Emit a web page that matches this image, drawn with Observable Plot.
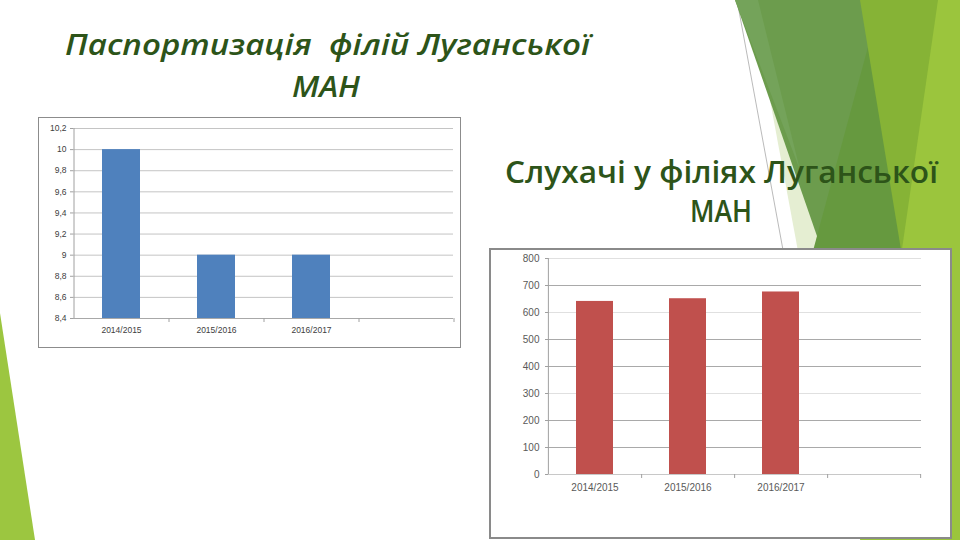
<!DOCTYPE html>
<html>
<head>
<meta charset="utf-8">
<script src="https://cdn.jsdelivr.net/npm/d3@7"></script>
<script src="https://cdn.jsdelivr.net/npm/@observablehq/plot@0.6"></script>
<style>
  html, body { margin: 0; padding: 0; background: #fff; }
  #slide { position: relative; width: 960px; height: 540px; overflow: hidden; background: #fff; }
  #decor, #titles { position: absolute; left: 0; top: 0; }
  .box { position: absolute; background: #fff; box-sizing: border-box; }
  #leftBox { left: 38px; top: 117px; width: 423px; height: 231px; border: 1px solid #8c8c8c; }
  #rightBox { left: 489px; top: 248px; width: 463px; height: 291px; border: 2px solid #8a8a8a; }
  .box svg { display: block; }
</style>
</head>
<body>
<div id="slide">
  <svg id="decor" width="960" height="540">
    <polygon points="0,313 35,540 0,540" fill="#9cc640"/>
    <polygon points="770,100 800,262 836,262" fill="#e5eed2"/>
    <line x1="737" y1="0" x2="783" y2="250" stroke="#a8a8a8" stroke-width="0.8"/>
    <polygon points="735,0 862,0 906,262 826,262" fill="#6c9c4d"/>
    <polygon points="735,0 758,0 800,170" fill="#74a35a"/>
    <polygon points="868,47 906,262 810,262" fill="#66993f"/>
    <polygon points="860,0 940,0 903,262" fill="#86b336"/>
    <polygon points="938,0 960,0 960,540 860,540" fill="#9bc53d"/>
  </svg>
  <div id="leftBox" class="box"></div>
  <div id="rightBox" class="box"></div>
  <svg id="titles" width="960" height="240" style="pointer-events:none">
    <g fill="#2d5419" font-family="Open Sans, DejaVu Sans" font-weight="600">
      <text x="65" y="55" font-size="28" font-style="italic" textLength="525" lengthAdjust="spacingAndGlyphs">Паспортизація&#160;&#160;філій Луганської</text>
      <text x="292" y="97" font-size="28" font-style="italic" textLength="68" lengthAdjust="spacingAndGlyphs">МАН</text>
      <text x="505" y="183" font-size="31" textLength="433" lengthAdjust="spacingAndGlyphs">Слухачі у філіях Луганської</text>
      <text x="690" y="222" font-size="31" textLength="62" lengthAdjust="spacingAndGlyphs">МАН</text>
    </g>
  </svg>
</div>
<script>
// ---- data ----
const categories = ["2014/2015", "2015/2016", "2016/2017"];
const branchCounts = [10, 9, 9];            // Паспортизація філій
const listenerCounts = [641, 651, 676];      // Слухачі у філіях
const leftYTicks = [8.4, 8.6, 8.8, 9, 9.2, 9.4, 9.6, 9.8, 10, 10.2];
const leftYTickLabels = ["8,4", "8,6", "8,8", "9", "9,2", "9,4", "9,6", "9,8", "10", "10,2"];
const rightYTicks = [0, 100, 200, 300, 400, 500, 600, 700, 800];
const rightYTickLabels = ["0", "100", "200", "300", "400", "500", "600", "700", "800"];
const rightDarkGrid = [100, 200, 400, 500, 700];
const rightLightGrid = [300, 600, 800];

const slots = [...categories, ""]; // empty fourth category slot as in the original
const leftData = categories.map((c, i) => ({cat: c, value: branchCounts[i]}));
const rightData = categories.map((c, i) => ({cat: c, value: listenerCounts[i]}));

function chart({data, width, height, ml, mr, mt, mb, yTicks, yLabels, fill, fontSize, yPad, xPad, grids, baseStroke, textColor}) {
  const step = (width - ml - mr) / slots.length;
  const labelMap = new Map(yTicks.map((t, i) => [t, yLabels[i]]));
  const yMin = yTicks[0], yMax = yTicks[yTicks.length - 1];
  return Plot.plot({
    width, height,
    marginLeft: ml, marginRight: mr, marginTop: mt, marginBottom: mb,
    style: {fontFamily: "Liberation Sans, Arial, sans-serif", fontSize: fontSize + "px", color: textColor, background: "white", overflow: "visible"},
    x: {domain: slots, paddingInner: 0.6, paddingOuter: 0.3, axis: null},
    y: {domain: [yMin, yMax], axis: null},
    marks: [
      ...grids.map(g => Plot.gridY(g.ticks, {stroke: g.stroke, strokeOpacity: 1})),
      Plot.barY(data, {x: "cat", y1: yMin, y2: "value", fill}),
      Plot.ruleY([yMin], {stroke: baseStroke}),
      Plot.ruleX([slots[0]], {dx: -step / 2, stroke: "#a0a0a0"}),
      Plot.axisY({ticks: yTicks, tickFormat: d => labelMap.get(d), tickSize: 3, tickPadding: yPad, stroke: "#a0a0a0", fill: textColor, label: null}),
      Plot.axisX({tickSize: 4, dx: step / 2, tickFormat: () => "", stroke: "#a0a0a0", label: null}),
      Plot.axisX({tickSize: 0, tickPadding: xPad, tickFormat: d => d, fill: textColor, label: null})
    ]
  });
}

document.getElementById("leftBox").appendChild(chart({
  data: leftData, width: 421, height: 229, ml: 34, mr: 7, mt: 10, mb: 29,
  yTicks: leftYTicks, yLabels: leftYTickLabels, fill: "#4f81bd", fontSize: 8.5, yPad: 4, xPad: 8,
  grids: [{ticks: leftYTicks.slice(1), stroke: "#c4c4c4"}], baseStroke: "#a8a8a8", textColor: "#404040"
}));

document.getElementById("rightBox").appendChild(chart({
  data: rightData, width: 459, height: 287, ml: 57, mr: 29, mt: 8, mb: 63,
  yTicks: rightYTicks, yLabels: rightYTickLabels, fill: "#c0504d", fontSize: 10, yPad: 6, xPad: 9,
  grids: [{ticks: rightLightGrid, stroke: "#e0e0e0"}, {ticks: rightDarkGrid, stroke: "#a9a9a9"}], baseStroke: "#c8c8c8", textColor: "#595959"
}));
</script>
</body>
</html>
